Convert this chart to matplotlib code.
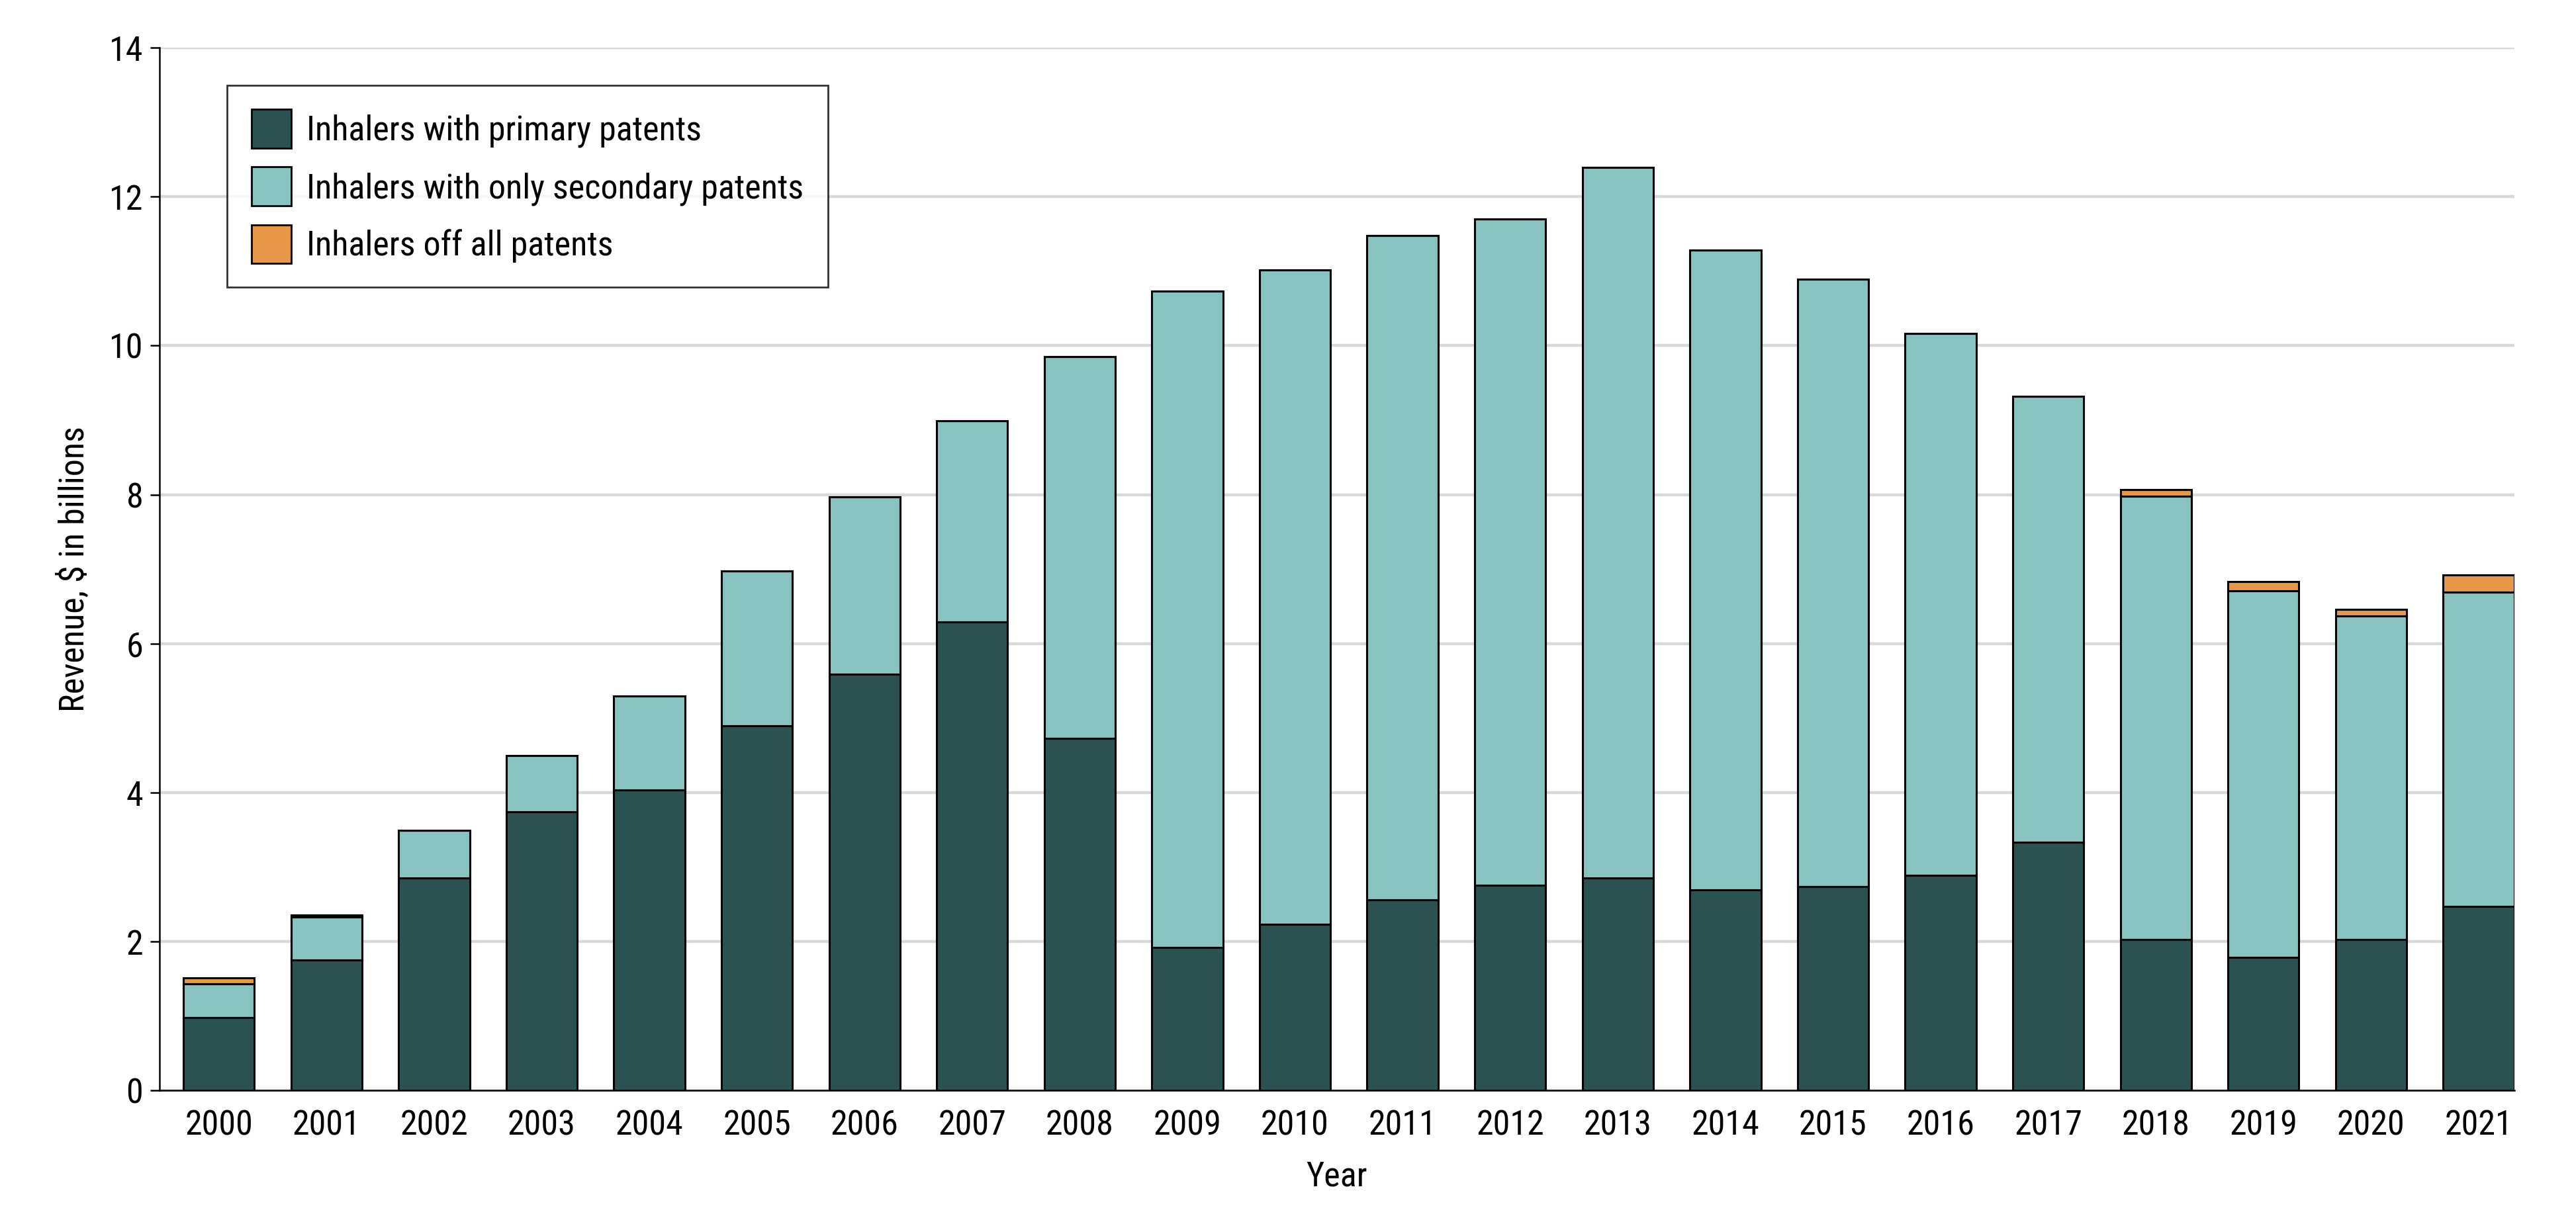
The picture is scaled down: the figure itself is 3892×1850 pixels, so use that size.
import numpy as np
import matplotlib
matplotlib.use("Agg")
import matplotlib.pyplot as plt
from matplotlib import font_manager

# data ($ billions)
years = [str(y) for y in range(2000, 2022)]
primary = [0.98, 1.75, 2.85, 3.74, 4.04, 4.90, 5.59, 6.29, 4.73, 1.92, 2.23,
           2.56, 2.76, 2.85, 2.69, 2.74, 2.89, 3.33, 2.03, 1.79, 2.03, 2.47]
secondary_top = [1.43, 2.33, 3.49, 4.50, 5.30, 6.98, 7.97, 8.99, 9.85, 10.73, 11.02,
                 11.48, 11.70, 12.39, 11.28, 10.89, 10.16, 9.32, 7.98, 6.71, 6.37, 6.69]
total = [1.51, 2.36, 3.49, 4.50, 5.30, 6.98, 7.97, 8.99, 9.85, 10.73, 11.02,
         11.48, 11.70, 12.39, 11.28, 10.89, 10.16, 9.32, 8.07, 6.83, 6.46, 6.92]
labels = ["Inhalers with primary patents", "Inhalers with only secondary patents",
          "Inhalers off all patents"]
colors = ["#2B5253", "#86C3C1", "#E79846"]

secondary = [s - p for s, p in zip(secondary_top, primary)]
offpatent = [t - s for t, s in zip(total, secondary_top)]

# pick a condensed font if there is one
names = {f.name for f in font_manager.fontManager.ttflist}
fam = [f for f in ["Roboto Condensed", "Liberation Sans Narrow", "DejaVu Sans Condensed"] if f in names]
plt.rcParams['font.family'] = fam + ["DejaVu Sans"]
if not fam:
    plt.rcParams['font.stretch'] = 'condensed'

fs = 37.5
fig = plt.figure(figsize=(38.92, 18.5), dpi=100)
ax = fig.add_axes([0.062, 0.109, 0.914, 0.852])

x = np.arange(len(years))
w = 0.66
kw = dict(width=w, edgecolor="black", linewidth=2.2, zorder=3)
ax.bar(x, primary, color=colors[0], label=labels[0], **kw)
ax.bar(x, secondary, bottom=primary, color=colors[1], label=labels[1], **kw)
ax.bar(x, offpatent, bottom=secondary_top, color=colors[2], label=labels[2], **kw)

ax.set_xlim(-0.55, 21.33)
ax.set_ylim(0, 14)
ax.set_yticks(range(0, 15, 2))
ax.set_xticks(x)
ax.set_xticklabels(years)
ax.tick_params(axis='y', labelsize=fs, length=10, width=1.8, pad=8)
ax.tick_params(axis='x', labelsize=fs, length=0, pad=20)
ax.yaxis.grid(True, color="#D9D9D9", linewidth=3.2, zorder=0)
ax.set_axisbelow(True)
for s in ["top", "right"]:
    ax.spines[s].set_visible(False)
for s in ["left", "bottom"]:
    ax.spines[s].set_linewidth(1.8)

ax.set_ylabel("Revenue, \\$ in billions", fontsize=fs, labelpad=20)
ax.set_xlabel("Year", fontsize=fs, labelpad=20)

leg = ax.legend(loc="upper left", bbox_to_anchor=(0.0287, 0.964), borderaxespad=0,
                fontsize=fs, frameon=True, fancybox=False, handlelength=1.15,
                handleheight=1.35, labelspacing=0.55, borderpad=0.7,
                handletextpad=0.45)
leg.get_frame().set_edgecolor("black")
leg.get_frame().set_linewidth(2)
for h in leg.legend_handles:
    h.set_linewidth(2)

fig.savefig("out.png", dpi=100)
